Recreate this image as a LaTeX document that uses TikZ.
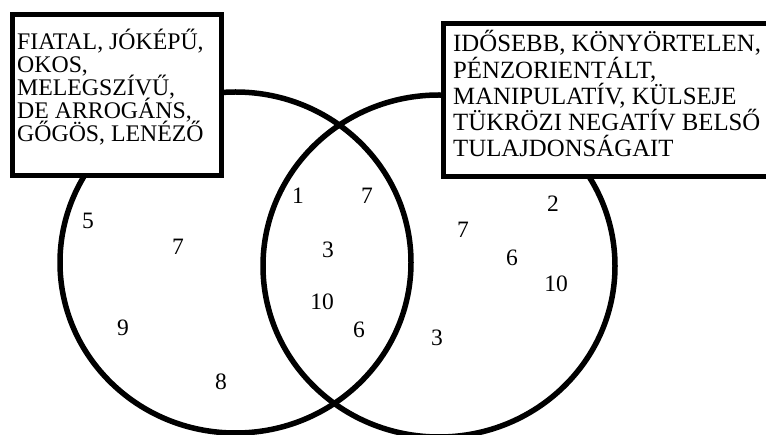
\documentclass[tikz,border=0pt]{standalone}
\usepackage{fontspec}
\setmainfont{Liberation Serif}
\begin{document}
\begin{tikzpicture}[x=1pt,y=-1pt,
  ring/.style={draw=black,line width=5.5pt},
  boxframe/.style={draw=black,line width=5pt,fill=white,anchor=north west,inner sep=0pt},
  ltxt/.style={anchor=base west,inner sep=0pt,font=\fontsize{23.8}{23.8}\selectfont},
  rtxt/.style={anchor=base west,inner sep=0pt,font=\fontsize{24.8}{26}\selectfont},
  num/.style={inner sep=0pt,font=\fontsize{23.5}{23.5}\selectfont}]
\useasboundingbox (0,0) rectangle (766,435);
\clip (0,0) rectangle (766,435);
\draw[ring] (235.5,262.5) ellipse [x radius=175.5, y radius=170.5];
\draw[ring] (439,266) ellipse [x radius=176, y radius=171];
\node[boxframe,minimum width=209pt,minimum height=161pt] (lbox) at (10,12) {};
\node[boxframe,minimum width=349pt,minimum height=153pt] (rbox) at (441,21) {};
\node[ltxt] (l1) at (17,50) {FIATAL, JÓKÉPŰ,};
\node[ltxt] (l2) at (17,73) {OKOS,};
\node[ltxt] (l3) at (17,96) {MELEGSZÍVŰ,};
\node[ltxt] (l4) at (17,119) {DE ARROGÁNS,};
\node[ltxt] (l5) at (17,142) {GŐGÖS, LENÉZŐ};
\node[rtxt] (r1) at (453,52) {IDŐSEBB, KÖNYÖRTELEN,};
\node[rtxt] (r2) at (453,78.25) {PÉNZORIENTÁLT,};
\node[rtxt] (r3) at (453,104.5) {MANIPULATÍV, KÜLSEJE};
\node[rtxt] (r4) at (453,130.75) {TÜKRÖZI NEGATÍV BELSŐ};
\node[rtxt] (r5) at (453,157) {TULAJDONSÁGAIT};
\node[num] (a1) at (88,221) {5};
\node[num] (a2) at (178,247) {7};
\node[num] (a3) at (123,328) {9};
\node[num] (a4) at (221,382) {8};
\node[num] (b1) at (298,196) {1};
\node[num] (b2) at (367,196) {7};
\node[num] (b3) at (328,250) {3};
\node[num] (b4) at (322,302) {10};
\node[num] (b5) at (359,330) {6};
\node[num] (c1) at (553,204) {2};
\node[num] (c2) at (463,230) {7};
\node[num] (c3) at (512,258) {6};
\node[num] (c4) at (556,284) {10};
\node[num] (c5) at (437,338) {3};
\end{tikzpicture}
\end{document}
